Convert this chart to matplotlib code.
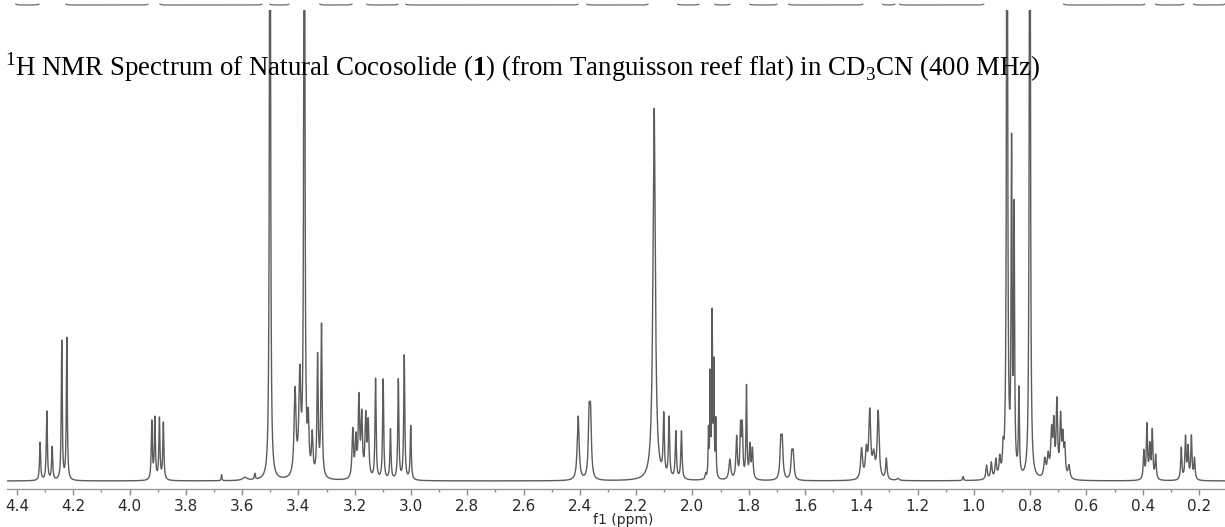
import matplotlib
matplotlib.use("Agg")
import matplotlib.pyplot as plt
import numpy as np
from matplotlib.ticker import MultipleLocator, FormatStrFormatter

# peak list: shift (ppm), height (display units), line width (ppm)
PEAK_PPM = [
    4.318, 4.294, 4.275, 4.241, 4.223,                 # 4.3 m, 4.23 d
    3.921, 3.910, 3.894, 3.880,                        # 3.9 dd
    3.673, 3.590, 3.555,                               # small impurities
    3.501,                                             # OMe
    3.412, 3.395, 3.379, 3.365, 3.351, 3.332, 3.318,   # 3.4 region
    3.207, 3.196, 3.185, 3.175, 3.161, 3.152,          # 3.17 m
    3.126, 3.099, 3.073, 3.045, 3.024, 3.001,          # 3.0-3.1
    2.406, 2.367, 2.362,                               # 2.4
    2.136,                                             # water
    2.102, 2.083, 2.059, 2.039,                        # 2.07
    1.953, 1.943, 1.937, 1.930, 1.924, 1.917,          # CHD2CN
    1.867,
    1.843, 1.829, 1.823, 1.808, 1.796, 1.787,          # 1.8 m
    1.686, 1.681, 1.647, 1.642,                        # 1.68 / 1.64
    1.399, 1.382, 1.370, 1.356, 1.340, 1.311,          # 1.35 m
    1.270, 1.038,
    0.955, 0.938, 0.922, 0.908, 0.896,                 # 0.9 ramp
    0.882, 0.866, 0.857, 0.840, 0.801,                 # methyls
    0.748, 0.736, 0.724, 0.716, 0.705, 0.692, 0.684, 0.677, 0.662,  # 0.7 m
    0.396, 0.385, 0.375, 0.366, 0.354,                 # 0.38 m
    0.263, 0.248, 0.239, 0.227, 0.216,                 # 0.24 m
]
PEAK_HEIGHT = [
    38, 69, 33, 139, 142,
    58, 61, 61, 57,
    6, 3, 6,
    900,
    85, 97, 900, 50, 40, 120, 152,
    48, 38, 78, 60, 60, 54,
    100, 100, 50, 100, 124, 54,
    64, 58, 58,
    372,
    60, 60, 47, 48,
    5, 46, 100, 160, 110, 56,
    20,
    42, 50, 50, 92, 32, 30,
    34, 34, 23, 23,
    30, 27, 66, 22, 67, 21,
    2, 4,
    14, 16, 18, 18, 22,
    900, 320, 258, 85, 900,
    18, 21, 44, 50, 74, 58, 37, 28, 13,
    28, 54, 32, 48, 24,
    32, 42, 31, 43, 21,
]
PEAK_WIDTH = [
    .0045, .0045, .0045, .004, .004,
    .0045, .0045, .0045, .0045,
    .003, .02, .004,
    .004,
    .008, .008, .004, .006, .006, .005, .005,
    .006, .006, .006, .006, .006, .006,
    .0045, .0045, .0045, .0045, .0045, .0045,
    .008, .007, .007,
    .010,
    .005, .005, .005, .005,
    .004, .003, .003, .003, .003, .003,
    .008,
    .006, .005, .005, .004, .005, .006,
    .007, .007, .007, .007,
    .008, .008, .008, .010, .008, .006,
    .010, .004,
    .006, .006, .006, .006, .005,
    .004, .004, .004, .004, .004,
    .008, .008, .007, .006, .006, .006, .006, .006, .008,
    .005, .005, .005, .005, .005,
    .005, .005, .005, .005, .005,
]

# flat stretches of the (cut off) integral traces above the spectrum, ppm
INTEGRAL_RANGES = [
    (4.404, 4.322), (4.226, 3.935), (3.892, 3.530), (3.501, 3.434),
    (3.324, 3.210), (3.157, 3.047),
    (3.018, 2.407), (2.375, 2.158), (2.052, 1.977), (1.920, 1.867),
    (1.796, 1.700), (1.658, 1.395), (1.324, 1.281), (1.263, 0.965),
    (0.681, 0.393), (0.354, 0.254), (0.219, 0.109),
]

X_LEFT, X_RIGHT = 4.4355, 0.1076
LINE = "#5c5c5c"

plt.rcParams["mathtext.fontset"] = "custom"
plt.rcParams["mathtext.rm"] = "Liberation Serif"
plt.rcParams["mathtext.bf"] = "Liberation Serif:bold"

W, H = 1225, 527
fig = plt.figure(figsize=(W / 100, H / 100), dpi=100)

ppm = np.linspace(X_LEFT, X_RIGHT, 30000)
spec = np.zeros_like(ppm)
for p, h, w in zip(PEAK_PPM, PEAK_HEIGHT, PEAK_WIDTH):
    spec += h / (1 + (2 * (ppm - p) / w) ** 2)

ax = fig.add_axes([7 / W, 1 - 489 / H, (W - 7) / W, 479 / H])
ax.plot(ppm, spec, color=LINE, lw=1.0)
ax.set_xlim(X_LEFT, X_RIGHT)
ax.set_ylim(-8, 471)
for s in ("top", "left", "right"):
    ax.spines[s].set_visible(False)
ax.spines["bottom"].set_color("#9a9a9a")
ax.spines["bottom"].set_linewidth(1.0)
ax.set_yticks([])
ax.xaxis.set_major_locator(MultipleLocator(0.2))
ax.xaxis.set_minor_locator(MultipleLocator(0.1))
ax.xaxis.set_major_formatter(FormatStrFormatter("%.1f"))
ax.tick_params(axis="x", which="major", length=4, width=1, color="#8a8a8a",
               labelsize=11, labelcolor="#2a2a2a", pad=3)
ax.tick_params(axis="x", which="minor", length=2.5, width=1, color="#8a8a8a")
fig.text(623 / W, 1 - 520 / H, "f1 (ppm)", ha="center", va="center",
         fontsize=10, color="#2a2a2a")

# integral traces, only their lower parts are visible at the top edge
top = fig.add_axes([7 / W, 1 - 10 / H, (W - 7) / W, 10 / H])
top.set_xlim(X_LEFT, X_RIGHT)
top.set_ylim(0, 1)
top.axis("off")
for a, b in INTEGRAL_RANGES:
    xs = np.linspace(a, b, 300)
    r = 0.006
    ys = 0.5 + 0.08 * (np.exp((xs - a) / r) + np.exp((b - xs) / r))
    top.plot(xs, ys, color="#6a6a6a", lw=0.9)

fig.text(5 / W, 1 - 76 / H,
         r"$^1$H NMR Spectrum of Natural Cocosolide ($\mathbf{1}$) "
         r"(from Tanguisson reef flat) in CD$_3$CN (400 MHz)",
         ha="left", va="baseline", fontsize=19.4, family="Liberation Serif",
         color="black")

fig.savefig("out.png", dpi=100, facecolor="white")
